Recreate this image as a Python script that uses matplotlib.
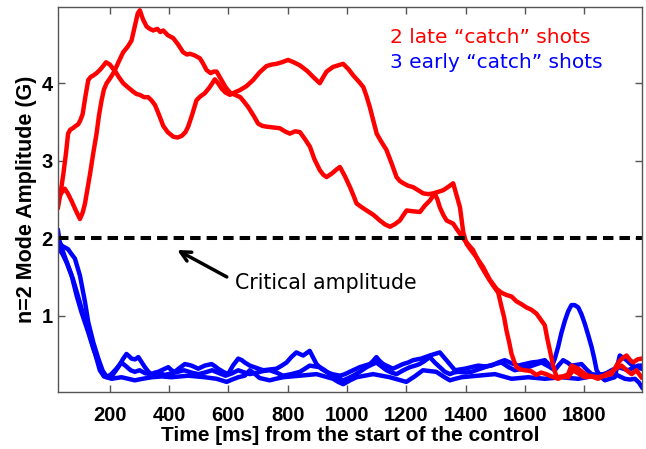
import numpy as np
import matplotlib
matplotlib.use('Agg')
import matplotlib.pyplot as plt

# --- data ---
# two late "catch" shots (red)
red1_t = [25, 35, 43, 52, 59, 66, 75, 85, 93, 100, 108, 117, 127, 135, 144, 155, 166, 177, 187,
          200, 210, 217, 230, 245, 260, 279, 290, 301, 315, 329, 340, 352, 365, 380, 395, 414,
          428, 442, 455, 464, 478, 492, 505, 520, 537, 554, 565, 577, 590, 605, 620, 638, 660,
          683, 705, 728, 745, 762, 780, 801, 820, 841, 865, 886, 900, 908, 920, 931, 953, 970,
          987, 1005, 1021, 1040, 1055, 1066, 1077, 1090, 1100, 1115, 1133, 1150, 1167, 1178,
          1190, 1205, 1223, 1240, 1257, 1275, 1291, 1308, 1324, 1340, 1358, 1370, 1381, 1392,
          1403, 1414, 1436, 1459, 1481, 1504, 1521, 1538, 1555, 1571, 1589, 1605, 1622, 1639,
          1656, 1667, 1676, 1684, 1695, 1707, 1725, 1746, 1762, 1780, 1802, 1825, 1847, 1870,
          1892, 1910, 1926, 1943, 1960, 1976, 1993]
red1_amp = [2.40, 2.62, 2.83, 3.10, 3.35, 3.40, 3.42, 3.45, 3.47, 3.52, 3.60, 3.82, 4.04, 4.08,
            4.10, 4.13, 4.17, 4.22, 4.27, 4.24, 4.19, 4.16, 4.08, 4.00, 3.95, 3.89, 3.86, 3.85,
            3.82, 3.82, 3.78, 3.72, 3.60, 3.45, 3.37, 3.31, 3.30, 3.32, 3.37, 3.44, 3.60, 3.78,
            3.83, 3.87, 3.95, 4.05, 4.00, 3.93, 3.88, 3.85, 3.88, 3.91, 3.96, 4.04, 4.14, 4.22,
            4.24, 4.25, 4.27, 4.30, 4.27, 4.23, 4.16, 4.08, 4.03, 4.00, 4.08, 4.15, 4.21, 4.23,
            4.25, 4.18, 4.10, 4.02, 3.95, 3.83, 3.69, 3.50, 3.35, 3.25, 3.14, 2.97, 2.79, 2.74,
            2.71, 2.68, 2.66, 2.62, 2.58, 2.57, 2.58, 2.60, 2.62, 2.66, 2.71, 2.55, 2.40, 2.08,
            1.93, 1.87, 1.76, 1.63, 1.47, 1.35, 1.30, 1.27, 1.25, 1.19, 1.15, 1.11, 1.08, 1.03,
            0.94, 0.88, 0.70, 0.56, 0.36, 0.21, 0.22, 0.21, 0.30, 0.26, 0.21, 0.22, 0.19, 0.24,
            0.28, 0.33, 0.36, 0.30, 0.25, 0.30, 0.21]

red2_t = [25, 35, 48, 58, 71, 85, 99, 108, 116, 125, 133, 144, 155, 163, 172, 180, 189, 200, 210,
          217, 230, 245, 260, 273, 285, 294, 301, 312, 324, 335, 346, 360, 370, 380, 395, 414,
          430, 447, 460, 470, 485, 504, 515, 526, 540, 550, 560, 575, 590, 605, 622, 640, 655,
          667, 685, 700, 714, 728, 750, 773, 790, 807, 825, 841, 858, 875, 890, 908, 920, 931,
          950, 965, 976, 993, 1010, 1022, 1032, 1050, 1066, 1090, 1111, 1128, 1145, 1160, 1178,
          1190, 1201, 1220, 1246, 1262, 1280, 1296, 1305, 1313, 1325, 1336, 1358, 1370, 1381,
          1398, 1414, 1425, 1448, 1465, 1481, 1495, 1510, 1521, 1530, 1538, 1547, 1555, 1565,
          1572, 1585, 1600, 1620, 1639, 1655, 1672, 1690, 1712, 1730, 1746, 1757, 1768, 1780,
          1796, 1813, 1830, 1847, 1870, 1892, 1903, 1915, 1930, 1943, 1955, 1965, 1980, 1993]
red2_amp = [2.49, 2.58, 2.64, 2.58, 2.48, 2.36, 2.25, 2.33, 2.45, 2.65, 2.83, 3.10, 3.35, 3.58,
            3.78, 3.92, 4.00, 4.06, 4.12, 4.17, 4.28, 4.40, 4.47, 4.55, 4.75, 4.90, 4.94, 4.82,
            4.73, 4.70, 4.68, 4.70, 4.66, 4.68, 4.62, 4.58, 4.50, 4.40, 4.37, 4.38, 4.36, 4.32,
            4.25, 4.17, 4.13, 4.15, 4.15, 4.05, 3.95, 3.88, 3.85, 3.82, 3.75, 3.69, 3.58, 3.48,
            3.45, 3.44, 3.43, 3.42, 3.38, 3.35, 3.38, 3.37, 3.28, 3.18, 3.02, 2.88, 2.82, 2.79,
            2.84, 2.89, 2.92, 2.80, 2.66, 2.55, 2.45, 2.40, 2.36, 2.30, 2.23, 2.18, 2.15, 2.18,
            2.23, 2.30, 2.36, 2.35, 2.34, 2.42, 2.49, 2.58, 2.50, 2.40, 2.30, 2.23, 2.19, 2.12,
            2.06, 1.97, 1.90, 1.85, 1.67, 1.56, 1.46, 1.38, 1.30, 1.12, 0.98, 0.81, 0.66, 0.51,
            0.40, 0.34, 0.31, 0.30, 0.29, 0.24, 0.27, 0.25, 0.22, 0.19, 0.22, 0.25, 0.36, 0.34,
            0.32, 0.27, 0.23, 0.22, 0.21, 0.23, 0.25, 0.32, 0.40, 0.46, 0.49, 0.43, 0.40, 0.44,
            0.45]

# three early "catch" shots (blue)
blue1_t = [25, 30, 37, 54, 71, 88, 104, 127, 144, 161, 175, 190, 206, 228, 245, 256, 265, 273,
           285, 296, 308, 318, 330, 341, 352, 363, 380, 397, 408, 419, 435, 453, 465, 475, 487,
           498, 520, 543, 555, 565, 582, 599, 615, 633, 645, 655, 672, 695, 717, 740, 762, 780,
           796, 812, 829, 840, 852, 863, 874, 885, 897, 913, 930, 950, 976, 993, 1009, 1026,
           1043, 1060, 1077, 1088, 1099, 1110, 1122, 1138, 1155, 1172, 1189, 1206, 1223, 1250,
           1279, 1296, 1313, 1324, 1335, 1350, 1364, 1380, 1397, 1420, 1442, 1465, 1487, 1510,
           1532, 1555, 1577, 1600, 1622, 1645, 1667, 1680, 1690, 1701, 1712, 1723, 1735, 1746,
           1757, 1768, 1780, 1791, 1802, 1813, 1825, 1834, 1842, 1855, 1870, 1885, 1903, 1912,
           1920, 1932, 1943, 1957, 1971, 1993]
blue1_amp = [2.10, 1.97, 1.88, 1.70, 1.52, 1.26, 1.05, 0.79, 0.58, 0.40, 0.28, 0.22, 0.22, 0.34,
             0.45, 0.51, 0.48, 0.45, 0.44, 0.47, 0.40, 0.34, 0.28, 0.25, 0.27, 0.28, 0.31, 0.34,
             0.30, 0.28, 0.33, 0.38, 0.37, 0.36, 0.34, 0.32, 0.36, 0.38, 0.35, 0.32, 0.28, 0.25,
             0.36, 0.45, 0.43, 0.40, 0.36, 0.33, 0.30, 0.31, 0.32, 0.36, 0.40, 0.47, 0.53, 0.51,
             0.49, 0.52, 0.55, 0.47, 0.38, 0.32, 0.28, 0.25, 0.23, 0.25, 0.28, 0.31, 0.34, 0.36,
             0.38, 0.42, 0.47, 0.42, 0.38, 0.35, 0.32, 0.35, 0.38, 0.40, 0.43, 0.45, 0.49, 0.51,
             0.53, 0.48, 0.43, 0.36, 0.30, 0.31, 0.32, 0.34, 0.36, 0.35, 0.36, 0.40, 0.43, 0.39,
             0.36, 0.38, 0.40, 0.41, 0.43, 0.38, 0.34, 0.45, 0.60, 0.78, 0.94, 1.06, 1.14, 1.14,
             1.11, 1.02, 0.90, 0.76, 0.60, 0.45, 0.30, 0.22, 0.17, 0.19, 0.21, 0.36, 0.49, 0.46,
             0.43, 0.38, 0.34, 0.32]

blue2_t = [25, 40, 59, 70, 82, 99, 116, 127, 144, 161, 175, 189, 205, 222, 239, 255, 270, 284,
           300, 320, 341, 365, 385, 408, 430, 450, 475, 498, 520, 545, 570, 590, 612, 633, 655,
           672, 695, 717, 739, 762, 784, 812, 841, 858, 874, 890, 908, 925, 942, 965, 987, 1005,
           1021, 1043, 1066, 1082, 1099, 1116, 1133, 1150, 1167, 1190, 1212, 1230, 1245, 1262,
           1279, 1296, 1313, 1330, 1347, 1360, 1375, 1400, 1420, 1442, 1465, 1490, 1521, 1545,
           1566, 1590, 1611, 1633, 1656, 1680, 1701, 1715, 1729, 1743, 1757, 1775, 1791, 1808,
           1825, 1848, 1870, 1892, 1915, 1932, 1948, 1965, 1982, 1995]
blue2_amp = [1.95, 1.90, 1.86, 1.80, 1.74, 1.52, 1.18, 0.92, 0.66, 0.45, 0.30, 0.21, 0.25, 0.32,
             0.40, 0.35, 0.30, 0.28, 0.30, 0.26, 0.25, 0.27, 0.24, 0.26, 0.28, 0.30, 0.27, 0.25,
             0.27, 0.30, 0.26, 0.23, 0.26, 0.30, 0.27, 0.25, 0.27, 0.29, 0.30, 0.27, 0.23, 0.25,
             0.28, 0.32, 0.36, 0.35, 0.34, 0.30, 0.25, 0.21, 0.17, 0.20, 0.23, 0.28, 0.34, 0.37,
             0.40, 0.35, 0.30, 0.27, 0.25, 0.30, 0.34, 0.36, 0.38, 0.42, 0.47, 0.40, 0.34, 0.28,
             0.25, 0.27, 0.28, 0.27, 0.28, 0.31, 0.34, 0.37, 0.40, 0.34, 0.30, 0.32, 0.34, 0.37,
             0.40, 0.35, 0.30, 0.37, 0.43, 0.40, 0.36, 0.37, 0.38, 0.31, 0.25, 0.24, 0.25, 0.30,
             0.34, 0.32, 0.30, 0.33, 0.36, 0.36]

blue3_t = [25, 40, 55, 75, 95, 110, 130, 150, 166, 180, 206, 222, 239, 262, 284, 310, 341, 375,
           408, 436, 464, 492, 520, 560, 594, 612, 633, 655, 672, 690, 705, 739, 760, 784, 812,
           841, 870, 897, 925, 953, 970, 987, 1010, 1032, 1060, 1088, 1116, 1144, 1172, 1200,
           1228, 1256, 1278, 1301, 1325, 1347, 1365, 1386, 1414, 1442, 1470, 1499, 1527, 1555,
           1583, 1611, 1640, 1667, 1695, 1723, 1750, 1780, 1808, 1836, 1864, 1892, 1915, 1937,
           1955, 1971, 1985, 1995]
blue3_amp = [1.88, 1.80, 1.68, 1.48, 1.22, 1.02, 0.78, 0.52, 0.30, 0.22, 0.19, 0.20, 0.21, 0.19,
             0.17, 0.19, 0.21, 0.22, 0.21, 0.22, 0.23, 0.22, 0.21, 0.19, 0.15, 0.18, 0.21, 0.23,
             0.30, 0.25, 0.20, 0.17, 0.19, 0.21, 0.22, 0.23, 0.24, 0.25, 0.22, 0.19, 0.15, 0.12,
             0.17, 0.21, 0.23, 0.25, 0.23, 0.21, 0.18, 0.15, 0.22, 0.30, 0.29, 0.28, 0.22, 0.17,
             0.19, 0.21, 0.22, 0.23, 0.24, 0.25, 0.22, 0.19, 0.20, 0.21, 0.20, 0.19, 0.20, 0.21,
             0.20, 0.19, 0.21, 0.23, 0.25, 0.28, 0.23, 0.19, 0.18, 0.19, 0.14, 0.08]

critical_amp = 2.0
x_ticks = [200, 400, 600, 800, 1000, 1200, 1400, 1600, 1800]
y_ticks = [1, 2, 3, 4]

RED = '#ff0000'
BLUE = '#0000ff'
GREY = '#555555'

fig = plt.figure(figsize=(6.46, 4.49), dpi=100)
ax = fig.add_axes([0.0898, 0.127, 0.904, 0.857])

# blue first, red on top
for t, a in [(blue1_t, blue1_amp), (blue2_t, blue2_amp), (blue3_t, blue3_amp)]:
    ax.plot(t, a, color=BLUE, lw=3.2, solid_joinstyle='round')
for t, a in [(red1_t, red1_amp), (red2_t, red2_amp)]:
    ax.plot(t, a, color=RED, lw=3.2, solid_joinstyle='round')

ax.axhline(critical_amp, color='black', lw=2.9, dashes=(2.6, 1.5))

ax.set_xlim(25, 1995)
ax.set_ylim(0.02, 4.98)
ax.set_xticks(x_ticks)
ax.set_yticks(y_ticks)
ax.tick_params(direction='in', top=True, right=True, length=5, width=1.0,
               color=GREY, labelsize=14.5)
ax.tick_params(axis='x', pad=10)
ax.tick_params(axis='y', pad=4)
for lab in ax.get_xticklabels() + ax.get_yticklabels():
    lab.set_fontfamily('Liberation Sans')
    lab.set_fontweight('bold')
for sp in ax.spines.values():
    sp.set_color(GREY)
    sp.set_linewidth(1.0)

ax.set_xlabel('Time [ms] from the start of the control', fontsize=15,
              fontweight='bold', family='Liberation Sans', labelpad=1)
ax.set_ylabel('n=2 Mode Amplitude (G)', fontsize=15.5, fontweight='bold',
              family='Liberation Sans', labelpad=3)

# annotations
ax.text(0.568, 0.922, '2 late \u201ccatch\u201d shots', color=RED, fontsize=14.5,
        family='DejaVu Sans', transform=ax.transAxes, va='center', ha='left')
ax.text(0.568, 0.857, '3 early \u201ccatch\u201d shots', color=BLUE, fontsize=14.5,
        family='DejaVu Sans', transform=ax.transAxes, va='center', ha='left')
ax.annotate('', xy=(0.204, 0.369), xytext=(0.289, 0.299),
            xycoords='axes fraction', textcoords='axes fraction',
            arrowprops=dict(arrowstyle='->', lw=2.5, color='black',
                            shrinkA=0, shrinkB=0, mutation_scale=18))
ax.text(0.303, 0.283, 'Critical amplitude', color='black', fontsize=14.8,
        family='DejaVu Sans', transform=ax.transAxes, va='center', ha='left')

fig.savefig('out.png', dpi=100)
